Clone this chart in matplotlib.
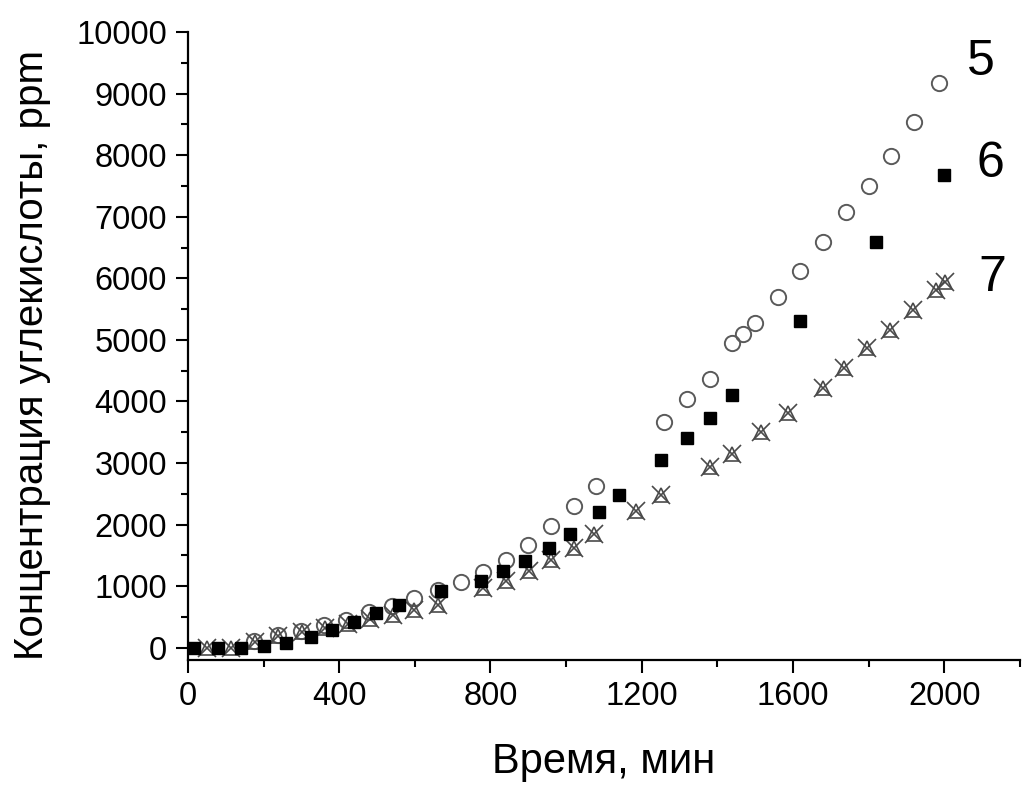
import matplotlib
matplotlib.use("Agg")
import matplotlib.pyplot as plt
from matplotlib.ticker import MultipleLocator

plt.rcParams['font.family'] = ['Liberation Sans', 'DejaVu Sans']

# Series 5 (open circles)
t5 = [175, 237, 299, 360, 419, 479, 540, 599, 660, 721, 780, 841, 900, 959,
      1020, 1080, 1259, 1320, 1380, 1439, 1468, 1499, 1561, 1619, 1680, 1740,
      1800, 1860, 1921, 1985]
c5 = [110, 211, 276, 373, 450, 576, 677, 807, 942, 1060, 1222, 1420, 1672, 1969,
      2305, 2630, 3674, 4042, 4359, 4946, 5093, 5281, 5703, 6120, 6586, 7070,
      7505, 7992, 8544, 9167]

# Series 6 (filled squares)
t6 = [16, 80, 140, 201, 260, 326, 381, 440, 498, 559, 669, 775, 832, 890, 954,
      1011, 1086, 1140, 1250, 1320, 1380, 1440, 1619, 1820, 1999]
c6 = [0, 0, 0, 21, 81, 179, 292, 414, 557, 698, 914, 1088, 1250, 1412, 1619,
      1846, 2208, 2479, 3041, 3404, 3739, 4107, 5304, 6596, 7679]

# Series 7 (triangle with cross)
t7 = [51, 113, 176, 238, 301, 362, 422, 482, 541, 599, 660, 780, 842, 901, 961,
      1020, 1075, 1186, 1250, 1380, 1439, 1515, 1588, 1679, 1735, 1795, 1857,
      1917, 1979, 2003]
c7 = [0, 0, 97, 187, 252, 320, 390, 471, 536, 617, 698, 969, 1076, 1239, 1429,
      1619, 1846, 2213, 2484, 2943, 3149, 3510, 3820, 4216, 4541, 4865, 5162,
      5487, 5812, 5942]

series_labels = ["5", "6", "7"]
label_pos = [(2060, 9520), (2085, 7850), (2090, 6010)]

x_ticks = [0, 400, 800, 1200, 1600, 2000]
y_ticks = [0, 1000, 2000, 3000, 4000, 5000, 6000, 7000, 8000, 9000, 10000]

fig = plt.figure(figsize=(10.25, 7.85), dpi=100)
ax = fig.add_axes([0.1834, 0.1592, 0.8116, 0.8000])

ax.plot(t5, c5, linestyle='none', marker='o', markersize=11,
        markerfacecolor='none', markeredgecolor='#5a5a5a', markeredgewidth=1.4, zorder=3)
ax.plot(t7, c7, linestyle='none', marker='^', markersize=9.5,
        markerfacecolor='none', markeredgecolor='#4a4a4a', markeredgewidth=1.2, zorder=4)
ax.plot(t7, c7, linestyle='none', marker='x', markersize=13.5,
        markeredgecolor='#4a4a4a', markeredgewidth=1.2, zorder=4)
ax.plot(t6, c6, linestyle='none', marker='s', markersize=9,
        markerfacecolor='black', markeredgecolor='black', zorder=5)

for lab, (lx, ly) in zip(series_labels, label_pos):
    ax.text(lx, ly, lab, fontsize=36, ha='left', va='center', clip_on=False)

ax.set_xlim(0, 2200)
ax.set_ylim(-200, 10000)
ax.set_xticks(x_ticks)
ax.set_yticks(y_ticks)
ax.xaxis.set_minor_locator(MultipleLocator(200))
ax.yaxis.set_minor_locator(MultipleLocator(500))

for s in ['top', 'right']:
    ax.spines[s].set_visible(False)
for s in ['left', 'bottom']:
    ax.spines[s].set_linewidth(1.6)

ax.tick_params(axis='both', which='major', direction='out', length=9, width=1.5,
               labelsize=23.5, pad=6)
ax.tick_params(axis='both', which='minor', direction='out', length=5, width=1.5)

ax.set_xlabel('Время, мин', fontsize=30, labelpad=22)
ax.set_ylabel('Концентрация углекислоты, ppm', fontsize=29, labelpad=12)
ax.yaxis.set_label_coords(-0.165, 0.485)

fig.savefig('out.png', dpi=100)
